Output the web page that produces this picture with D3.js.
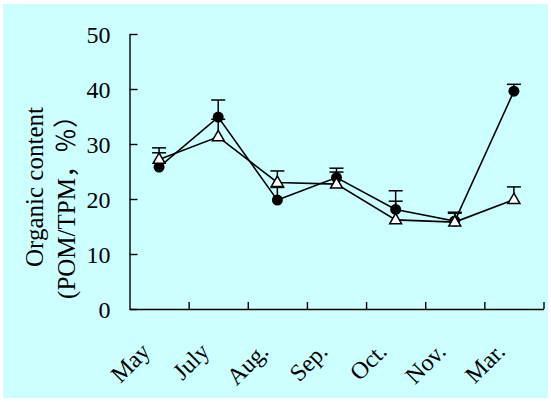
<!DOCTYPE html>
<html>
<head>
<meta charset="utf-8">
<script src="https://cdn.jsdelivr.net/npm/d3@7"></script>
<style>
  body { margin: 0; background: #fff; }
  svg { display: block; }
</style>
</head>
<body>
<div id="chart"></div>
<script>
// data
const MONTHS = ["May", "July", "Aug.", "Sep.", "Oct.", "Nov.", "Mar."];
const POM_CIRCLE = [25.8, 34.9, 19.8, 23.9, 18.1, 16.0, 39.6];
const ERR_CIRCLE = [2.6, 3.1, 2.3, 1.7, 3.4, 1.6, 1.25];
const POM_TRIANGLE = [27.2, 31.3, 23.0, 22.7, 16.2, 15.8, 19.9];
const ERR_TRIANGLE = [2.1, 3.2, 2.1, 2.2, 3.4, 1.6, 2.3];
const Y_TICKS = [0, 10, 20, 30, 40, 50];

// chart dimensions
const W = 551, H = 402;
const PLOT = Object.freeze({ left: 129.5, right: 543.5, top: 34, bottom: 309 });
const SERIF = "'Liberation Serif', 'Times New Roman', 'Noto Sans CJK SC', serif";

const svg = d3.select("#chart").append("svg")
  .attr("width", W)
  .attr("height", H);

// cyan panel with thin white frame
svg.append("rect")
  .attr("x", 3).attr("y", 4)
  .attr("width", 545).attr("height", 394)
  .attr("fill", "#ccffff");

const x = d3.scaleBand()
  .domain(MONTHS)
  .range([PLOT.left, PLOT.right])
  .padding(0);

// edges of the category bands, used for the x tick marks
const xEdge = d3.scaleLinear()
  .domain([0, MONTHS.length])
  .range([PLOT.left, PLOT.right]);

const y = d3.scaleLinear()
  .domain([0, 50])
  .range([PLOT.bottom, PLOT.top]);

// y axis
const yAxis = svg.append("g")
  .attr("transform", `translate(${PLOT.left},0)`)
  .call(d3.axisLeft(y).tickValues(Y_TICKS).tickSizeInner(-8).tickSizeOuter(0).tickPadding(19));
yAxis.selectAll("text")
  .style("font-family", SERIF)
  .style("font-size", "24px")
  .attr("dy", "0.34em")
  .attr("fill", "#000");

// x axis: ticks at band edges
svg.append("g")
  .attr("transform", `translate(0,${PLOT.bottom})`)
  .call(d3.axisBottom(xEdge).tickValues(d3.range(1, MONTHS.length + 1)).tickSizeInner(-7).tickSizeOuter(0).tickFormat(""));

// x labels rotated
svg.append("g")
  .attr("transform", `translate(0,${PLOT.bottom})`)
  .call(d3.axisBottom(x).tickSize(0).tickFormat((d) => d))
  .call((g) => g.select(".domain").remove())
  .selectAll("text")
  .style("font-family", SERIF)
  .style("font-size", "24px")
  .attr("fill", "#000")
  .attr("text-anchor", "end")
  .attr("dy", null)
  .attr("y", 0)
  .attr("transform", "translate(-7.5,44) rotate(-45)");

svg.selectAll(".domain, .tick line")
  .attr("stroke", "#000")
  .attr("stroke-width", 1.4);

// y axis title, two lines
const title = svg.append("g")
  .attr("transform", "rotate(-90)")
  .style("font-family", SERIF)
  .style("font-size", "25px")
  .attr("fill", "#000");
title.append("text")
  .attr("x", -187).attr("y", 43)
  .attr("text-anchor", "middle")
  .text("Organic content");
title.append("text")
  .attr("x", -201).attr("y", 75)
  .attr("text-anchor", "middle")
  .text("(POM/TPM，％）");

const series = [
  { values: POM_CIRCLE, errs: ERR_CIRCLE },
  { values: POM_TRIANGLE, errs: ERR_TRIANGLE },
];

const cx = (i) => x(MONTHS[i]) + x.bandwidth() / 2;
const line = d3.line()
  .x((d, i) => cx(i))
  .y((d) => y(d));

const plot = svg.append("g");

// error bars (upper half only)
series.forEach((s) => {
  const eb = plot.append("g").attr("stroke", "#000").attr("stroke-width", 1.5);
  s.values.forEach((v, i) => {
    eb.append("line")
      .attr("x1", cx(i)).attr("x2", cx(i))
      .attr("y1", y(v)).attr("y2", y(v + s.errs[i]));
    eb.append("line")
      .attr("x1", cx(i) - 7).attr("x2", cx(i) + 7)
      .attr("y1", y(v + s.errs[i])).attr("y2", y(v + s.errs[i]));
  });
});

// lines
series.forEach((s) => {
  plot.append("path")
    .datum(s.values)
    .attr("fill", "none")
    .attr("stroke", "#000")
    .attr("stroke-width", 1.6)
    .attr("d", line);
});

// markers
plot.selectAll(".dot")
  .data(POM_CIRCLE)
  .enter()
  .append("circle")
  .classed("dot", true)
  .attr("cx", (d, i) => cx(i))
  .attr("cy", (d) => y(d))
  .attr("r", 5.5)
  .attr("fill", "#000");

const tri = d3.symbol().type(d3.symbolTriangle).size(62);
plot.selectAll(".tri")
  .data(POM_TRIANGLE)
  .enter()
  .append("path")
  .classed("tri", true)
  .attr("d", tri)
  .attr("transform", (d, i) => `translate(${cx(i)},${y(d) + 0.5})`)
  .attr("fill", "#fff")
  .attr("stroke", "#000")
  .attr("stroke-width", 1.5);
</script>
</body>
</html>
